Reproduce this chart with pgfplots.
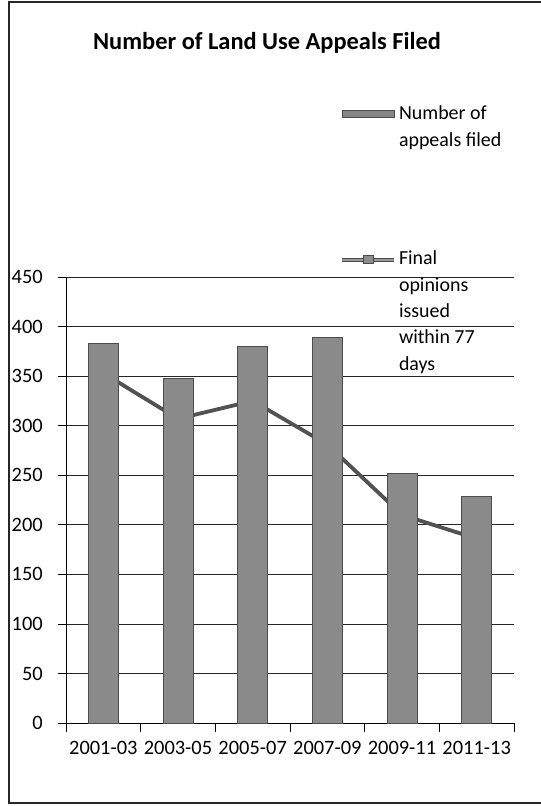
\documentclass[border=0pt]{standalone}
\usepackage{pgfplots}
\pgfplotsset{compat=1.18}
\usepackage{fontspec}
\setmainfont{Carlito}
\begin{document}
\begin{tikzpicture}[x=1bp,y=1bp]
\useasboundingbox (0,0) rectangle (541,-806);
\draw[line width=1.5bp, black!85] (9,-2) rectangle (560,-803);
\node[font=\fontsize{24.5}{28}\selectfont\bfseries] at (267,-43) {Number of Land Use Appeals Filed};
\begin{axis}[
  at={(66bp,-723bp)}, anchor=south west,
  scale only axis, width=448bp, height=446bp,
  xmin=0.5, xmax=6.5, ymin=0, ymax=450,
  axis x line*=bottom, axis y line*=left,
  axis line style={black, line width=0.8bp},
  xtick={1,...,6},
  xticklabels={2001-03,2003-05,2005-07,2007-09,2009-11,2011-13},
  major x tick style={draw=none},
  minor xtick={0.5,1.5,...,6.5},
  minor tick length=9bp, major tick length=8bp, tick align=outside,
  tick style={black, line width=0.8bp},
  ytick={0,50,...,450},
  ymajorgrids, grid style={black!85, line width=0.8bp},
  ticklabel style={font=\fontsize{20.5}{24}\selectfont, inner sep=0pt},
  /pgf/number format/assume math mode=true,
  yticklabel style={xshift=-15bp},
  xticklabel style={yshift=-10bp},
  reverse legend,
  legend style={at={(0.6116,1.3946)}, anchor=north west, draw=none, fill=none,
    inner sep=0pt, row sep=125bp, column sep=3bp,
    font=\fontsize{20}{26.5}\selectfont,
    cells={anchor=base west},
    nodes={inner sep=0pt}},
]
\addplot[draw=black!68, line width=3.8bp, mark=none,
  legend image code/.code={
    \draw[draw=black!70, line width=0.8bp, double=black!40, double distance=2.2bp] (0bp,5bp) -- (52bp,5bp);
    \draw[fill=black!45, draw=black!70, line width=0.6bp] (21bp,1bp) rectangle (31bp,9bp);}]
  coordinates {(1,353) (2,307) (3,325) (4,281) (5,210) (6,186)};
\addlegendentry{{\begin{tabular}[t]{@{}l@{}}Final\\opinions\\issued\\within 77\\days\end{tabular}}}
\addplot[ybar, bar width=30bp, fill=black!46, draw=black!70, line width=0.8bp,
  legend image code/.code={
    \draw[fill=black!48, draw=black!70, line width=0.6bp] (0bp,2bp) rectangle (52bp,9bp);}]
  coordinates {(1,383) (2,348) (3,380) (4,389) (5,252) (6,229)};
\addlegendentry{{\begin{tabular}[t]{@{}l@{}}Number of\\appeals filed\end{tabular}}}
\end{axis}
\end{tikzpicture}
\end{document}
